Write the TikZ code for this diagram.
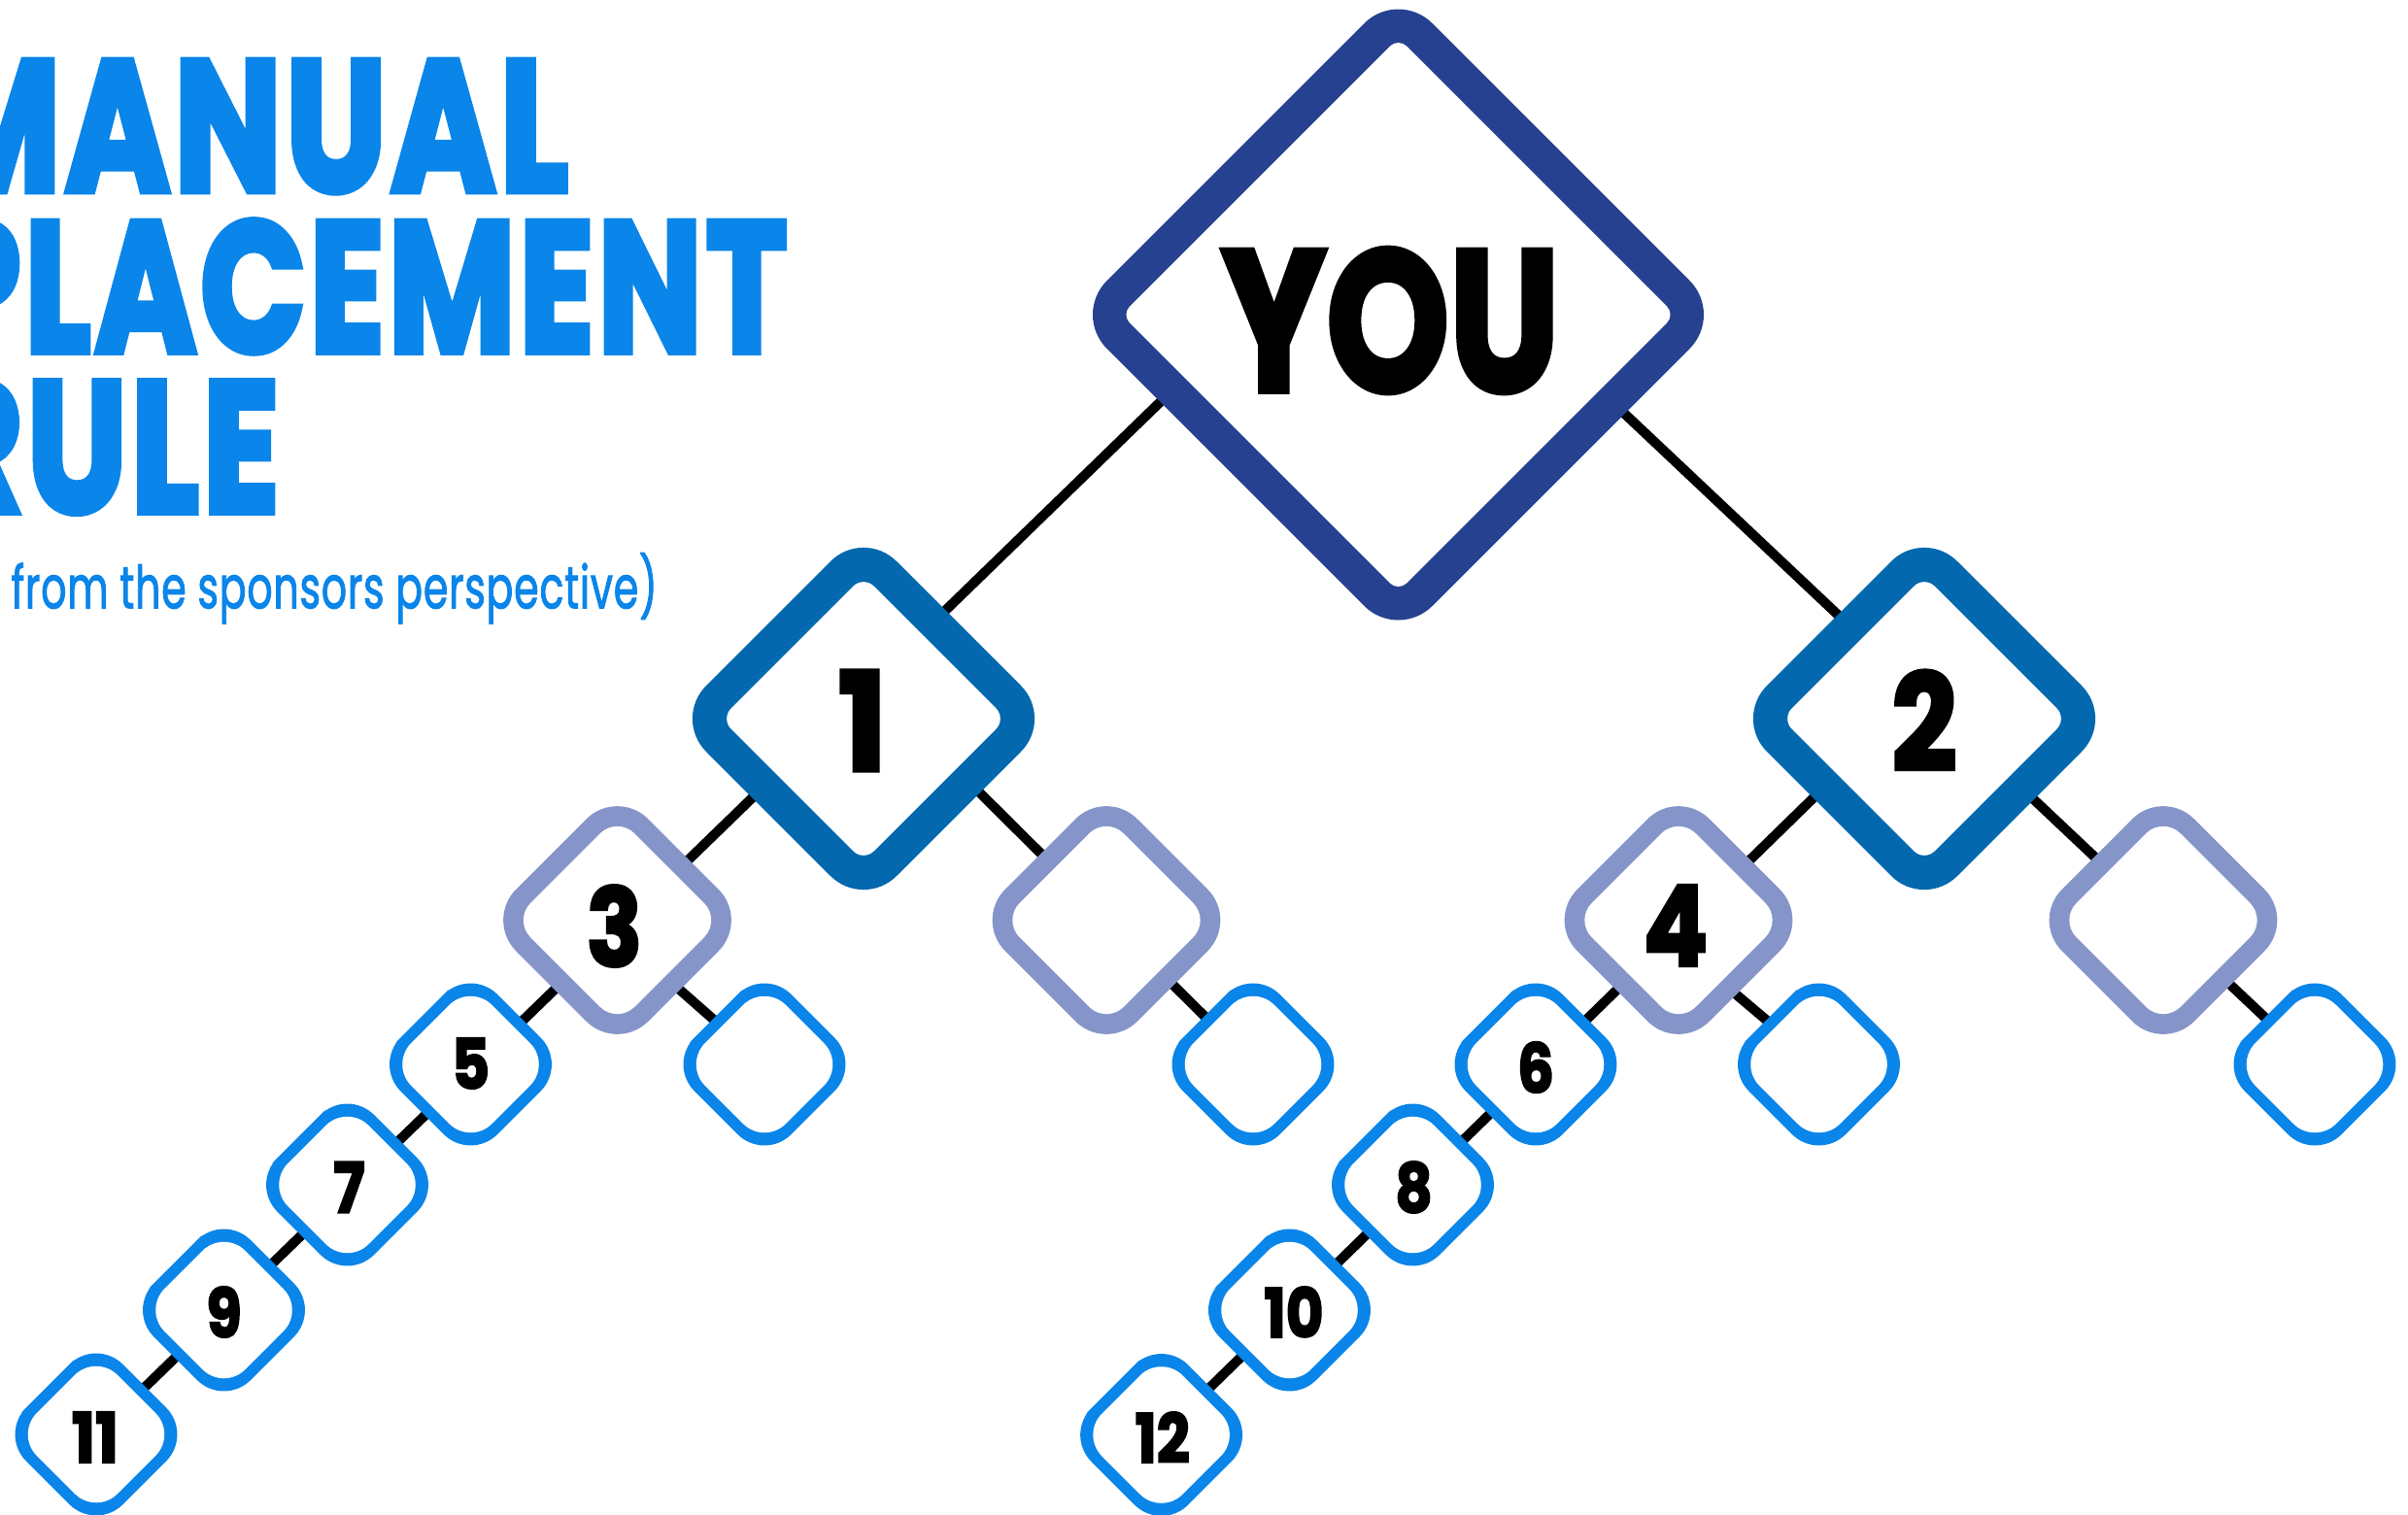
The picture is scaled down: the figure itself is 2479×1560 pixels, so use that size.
\documentclass[tikz,border=0pt]{standalone}
\usepackage{fontspec}
\usepackage{graphicx}
\setmainfont{Liberation Sans}
\newfontfamily\heavyfont{Poppins}[UprightFeatures={FakeBold=3},BoldFeatures={FakeBold=3}]
\newfontfamily\titlefont{Poppins}[UprightFeatures={FakeBold=4},BoldFeatures={FakeBold=4},LetterSpace=3]
\newfontfamily\subfont{Poppins}[UprightFeatures={FakeBold=2},LetterSpace=2]
\pgfdeclarelayer{lines}
\pgfdeclarelayer{shapes}
\pgfsetlayers{lines,shapes,main}
\definecolor{titleblue}{RGB}{10,133,233}
\definecolor{brightblue}{RGB}{10,133,233}
\definecolor{youblue}{RGB}{38,65,143}
\definecolor{midblue}{RGB}{3,104,174}
\definecolor{lavender}{RGB}{134,149,201}
\newcommand\mylbl[3]{\scalebox{#1}[1]{\resizebox{!}{#2}{\heavyfont\bfseries #3}}}
\newcommand\titleline[3]{\resizebox{#1}{#2}{\titlefont\bfseries #3}}
% rounded diamond: #1 centre, #2 outer half-diagonal, #3 outer radius,
% #4 inner half-diagonal, #5 inner radius, #6 colour
\newcommand\dmd[6]{%
  \begin{scope}[shift={(#1)}]
  \fill[#6,rounded corners=#3] (-#2/2,-#2/2) -- (0,-#2) -- (#2,0) -- (0,#2) -- (-#2,0) -- cycle;
  \fill[white,rounded corners=#5] (-#4/2,-#4/2) -- (0,-#4) -- (#4,0) -- (0,#4) -- (-#4,0) -- cycle;
  \end{scope}}
\newcommand\youdmd[1]{\dmd{#1}{335}{4.95mm}{285}{1.2mm}{youblue}}
\newcommand\bigdmd[1]{\dmd{#1}{196}{4.8mm}{147}{1.5mm}{midblue}}
\newcommand\middmd[1]{\dmd{#1}{136}{4.5mm}{107}{2.5mm}{lavender}}
\newcommand\smalldmd[1]{\dmd{#1}{99.6}{3.9mm}{83.1}{3.1mm}{brightblue}}
\begin{document}
\begin{tikzpicture}[x=0.1mm,y=-0.1mm,
  ctr/.style={inner sep=0pt,minimum size=0pt},
  lbl/.style={inner sep=0pt,text=black},
  conn/.style={draw=black,line width=1mm},
  title/.style={anchor=base west,inner sep=0pt,text=titleblue}]
\useasboundingbox (0,0) rectangle (2479,1560);
\clip (0,0) rectangle (2479,1560);

% title
\node[title] (t1) at (-73,196.5) {\titleline{65.7mm}{13.4mm}{MANUAL}};
\node[title] (t2) at (-68,362) {\titleline{87.8mm}{13.5mm}{PLACEMENT}};
\node[title] (t3) at (-72,527) {\titleline{35.9mm}{13.4mm}{RULE}};
\node[title] (t4) at (11,626.3) {\resizebox{66.5mm}{5.7mm}{\subfont from the sponsors perspective)}};

% diamond centres
\node[ctr] (you) at (1439.5,324) {};
\node[ctr] (n1) at (889,740) {};
\node[ctr] (n2) at (1981,740) {};
\node[ctr] (n3) at (635.5,947.5) {};
\node[ctr] (n1R) at (1139,947.5) {};
\node[ctr] (n4) at (1728,947.5) {};
\node[ctr] (n2R) at (2227,947.5) {};
\node[ctr] (n5) at (484.5,1096) {};
\node[ctr] (n3R) at (787,1096) {};
\node[ctr] (n1RR) at (1290,1096) {};
\node[ctr] (n6) at (1581,1096) {};
\node[ctr] (n4R) at (1872.5,1096) {};
\node[ctr] (n2RR) at (2383,1096) {};
\node[ctr] (n7) at (357.5,1220) {};
\node[ctr] (n8) at (1454.5,1220) {};
\node[ctr] (n9) at (230.5,1349) {};
\node[ctr] (n10) at (1327.5,1349) {};
\node[ctr] (n11) at (99,1477) {};
\node[ctr] (n12) at (1195.6,1477.5) {};

% diamonds
\begin{pgfonlayer}{shapes}
\youdmd{you}
\bigdmd{n1} \bigdmd{n2}
\middmd{n3} \middmd{n1R} \middmd{n4} \middmd{n2R}
\smalldmd{n5} \smalldmd{n3R} \smalldmd{n1RR} \smalldmd{n6} \smalldmd{n4R} \smalldmd{n2RR}
\smalldmd{n7} \smalldmd{n8} \smalldmd{n9} \smalldmd{n10} \smalldmd{n11} \smalldmd{n12}
\end{pgfonlayer}

% labels
\node[lbl] (lyou) at ([shift={(-8,6)}]you) {\mylbl{0.78}{14.7mm}{YOU}};
\node[lbl] (l1) at ([shift={(-1,2)}]n1) {\mylbl{0.95}{10.3mm}{1}};
\node[lbl] (l2) at ([shift={(0,2)}]n2) {\mylbl{0.85}{10.3mm}{2}};
\node[lbl] (l3) at ([shift={(-3,6)}]n3) {\mylbl{0.85}{8.3mm}{3}};
\node[lbl] (l4) at ([shift={(-3,5.5)}]n4) {\mylbl{0.85}{8.3mm}{4}};
\node[lbl] (l5) at ([shift={(0,-1)}]n5) {\mylbl{0.85}{5.2mm}{5}};
\node[lbl] (l6) at ([shift={(0,3)}]n6) {\mylbl{0.85}{5.2mm}{6}};
\node[lbl] (l7) at ([shift={(2,2.5)}]n7) {\mylbl{0.85}{5.2mm}{7}};
\node[lbl] (l8) at ([shift={(1,2.5)}]n8) {\mylbl{0.85}{5.2mm}{8}};
\node[lbl] (l9) at ([shift={(0,2)}]n9) {\mylbl{0.85}{5.2mm}{9}};
\node[lbl] (l10) at ([shift={(4.5,2)}]n10) {\mylbl{0.85}{5.2mm}{10}};
\node[lbl] (l11) at ([shift={(-1,3)}]n11) {\mylbl{0.9}{5.2mm}{11}};
\node[lbl] (l12) at ([shift={(1,2.5)}]n12) {\mylbl{0.85}{5.2mm}{12}};

% connectors
\begin{pgfonlayer}{lines}
\draw[conn] ([shift={(-139.5,-12.5)}]you.center) -- (n11.center);
\draw[conn] ([shift={(140.5,14.8)}]you.center) -- (n2RR.center);
\draw[conn] ([shift={(61,18)}]n1.center) -- (n1RR.center);
\draw[conn] ([shift={(0,15)}]n3.center) -- (n3R.center);
\draw[conn] ([shift={(-31,0.4)}]n2.center) -- (n12.center);
\draw[conn] ([shift={(12,36.5)}]n4.center) -- (n4R.center);
\end{pgfonlayer}
\end{tikzpicture}
\end{document}
